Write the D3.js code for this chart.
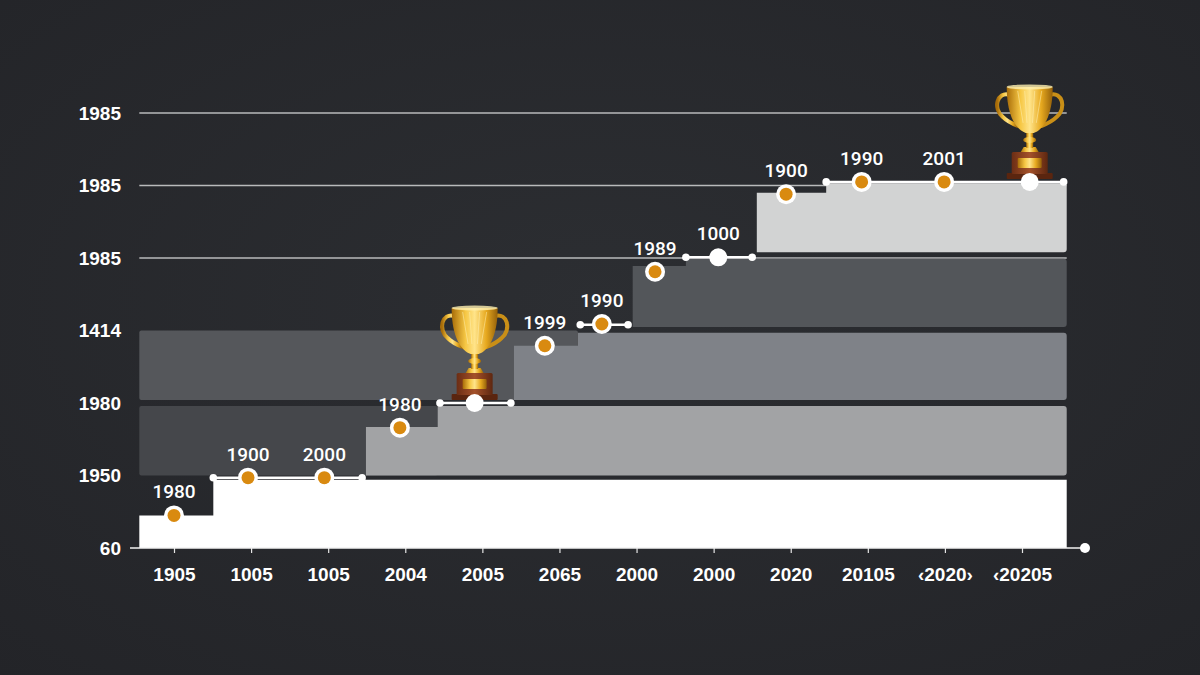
<!doctype html>
<html>
<head>
<meta charset="utf-8">
<style>
  body { margin: 0; background-color: #2a2c30; }
  svg { display: block; }
  .tick text { font-family: "Liberation Sans", Arial, sans-serif; }
</style>
<script src="https://d3js.org/d3.v7.min.js"></script>
</head>
<body>
<script>

  // axis labels
  var yLabels = ["60", "1950", "1980", "1414", "1985", "1985", "1985"];
  var xLabels = ["1905", "1005", "1005", "2004", "2005", "2065", "2000", "2000", "2020", "20105", "\u20392020\u203a", "\u203920205"];

  // points along the staircase (x in category units, y in level units)
  var pointX = [0, 0.96, 1.95, 2.93, 3.9, 4.81, 5.55, 6.24, 7.06, 7.94, 8.92, 9.99, 11.1];
  var pointY = [0.45, 0.97, 0.97, 1.66, 2.0, 2.79, 3.09, 3.81, 4.01, 4.88, 5.05, 5.05, 5.05];
  var pointLabel = ["1980", "1900", "2000", "1980", "", "1999", "1990", "1989", "1000", "1900", "1990", "2001", ""];
  var pointKind = ["o", "o", "o", "o", "w", "o", "o", "o", "w", "o", "o", "o", "w"];
  var trophyAt = [4, 12];

  // flat white segments
  var segStart = [0.51, 3.45, 5.27, 6.64, 8.46];
  var segEnd = [2.44, 4.37, 5.89, 7.5, 11.54];
  var segLevel = [0.97, 2.0, 3.08, 4.01, 5.05];

  // stepped bands: light part starts at bandStart with low top, rises at bandStep
  var bandStart = [-0.45, 2.49, 4.41, 5.95, 7.56];
  var bandStep = [0.51, 3.42, 5.24, 6.64, 8.46];
  var bandLowTop = [0.45, 1.67, 2.79, 3.89, 4.9];
  var bandHighTop = [0.94, 1.96, 2.97, 3.99, 5.03];
  var bandBottom = [0, 1.0, 2.04, 3.05, 4.08];
  var bandColor = ["#ffffff", "#a2a3a5", "#7f8288", "#53565a", "#d2d3d3"];
  // dark left parts of rows
  var darkBottom = [1.0, 2.04];
  var darkTop = [1.96, 3.0];
  var darkEnd = [3.42, 5.24];
  var darkColor = ["#45474b", "#55575b"];

  var gridLevels = [4, 5, 6];
  var xMin = -0.45, xMax = 11.58;

  var svg_width = 1200, svg_height = 675;

  var svg = d3.select("body").append("svg")
    .attr("width", svg_width)
    .attr("height", svg_height);

  var defs = svg.append("defs");
  var bg = defs.append("radialGradient").attr("id", "bg").attr("cx", "50%").attr("cy", "45%").attr("r", "75%");
  bg.append("stop").attr("offset", "0%").attr("stop-color", "#2c2e32");
  bg.append("stop").attr("offset", "100%").attr("stop-color", "#232428");

  var gold = defs.append("linearGradient").attr("id", "gold").attr("x1", "0").attr("x2", "1").attr("y1", "0").attr("y2", "0");
  gold.append("stop").attr("offset", "0%").attr("stop-color", "#a86c08");
  gold.append("stop").attr("offset", "30%").attr("stop-color", "#f6c744");
  gold.append("stop").attr("offset", "50%").attr("stop-color", "#ffe48a");
  gold.append("stop").attr("offset", "75%").attr("stop-color", "#e7a91f");
  gold.append("stop").attr("offset", "100%").attr("stop-color", "#94600a");

  var wood = defs.append("linearGradient").attr("id", "wood").attr("x1", "0").attr("x2", "1");
  wood.append("stop").attr("offset", "0%").attr("stop-color", "#6b2d14");
  wood.append("stop").attr("offset", "50%").attr("stop-color", "#a4512a");
  wood.append("stop").attr("offset", "100%").attr("stop-color", "#5e2710");

  svg.append("rect").attr("width", svg_width).attr("height", svg_height).attr("fill", "url(#bg)");

  var x = d3.scaleLinear().domain([0, 11]).range([174, 1022]);
  var y = d3.scaleLinear().domain([0, 6]).range([548, 113]);

  var g = svg.append("g");

  // gridlines
  g.selectAll(".grid")
    .data(gridLevels)
    .enter().append("line")
    .attr("x1", x(xMin)).attr("x2", x(xMax))
    .attr("y1", function(d) { return y(d); })
    .attr("y2", function(d) { return y(d); })
    .attr("stroke", "#b9babb")
    .attr("stroke-width", 1.5);

  // dark left parts
  g.selectAll(".dark")
    .data(darkColor)
    .enter().append("rect")
    .attr("x", x(xMin))
    .attr("y", function(d, i) { return y(darkTop[i]); })
    .attr("width", function(d, i) { return x(darkEnd[i]) - x(xMin); })
    .attr("height", function(d, i) { return y(darkBottom[i]) - y(darkTop[i]); })
    .attr("rx", 2)
    .attr("fill", function(d) { return d; });

  // stepped light parts
  g.selectAll(".band")
    .data(bandColor)
    .enter().append("path")
    .attr("fill", function(d) { return d; })
    .attr("d", function(d, i) {
      var x0 = x(bandStart[i]), xs = x(bandStep[i]), x1 = x(xMax);
      var yb = y(bandBottom[i]), yl = y(bandLowTop[i]), yh = y(bandHighTop[i]);
      var r = i == 0 ? 0 : 3;
      return "M" + x0 + "," + yb +
        "L" + x0 + "," + yl +
        "L" + xs + "," + yl +
        "L" + xs + "," + yh +
        "L" + (x1 - r) + "," + yh +
        "Q" + x1 + "," + yh + " " + x1 + "," + (yh + r) +
        "L" + x1 + "," + (yb - r) +
        "Q" + x1 + "," + yb + " " + (x1 - r) + "," + yb + "Z";
    });

  // x axis
  var xAxis = d3.axisBottom(x)
    .tickValues(d3.range(xLabels.length))
    .tickFormat(function(d) { return xLabels[d]; })
    .tickSize(5)
    .tickSizeOuter(0);

  var ax = g.append("g")
    .attr("transform", "translate(0," + y(0) + ")")
    .call(xAxis);
  ax.select(".domain").remove();
  ax.selectAll(".tick line").attr("stroke", "#e6e6e6").attr("stroke-width", 1.2);
  ax.selectAll(".tick text")
    .attr("fill", "#ffffff")
    .attr("font-size", "19px")
    .attr("font-weight", "bold")
    .attr("dy", "1.05em")
    .attr("y", 13);
  ax.append("line")
    .attr("x1", 130).attr("x2", 1085)
    .attr("y1", 0).attr("y2", 0)
    .attr("stroke", "#f2f2f2").attr("stroke-width", 1.5);
  ax.append("circle").attr("cx", 1085).attr("cy", 0).attr("r", 5).attr("fill", "#ffffff");

  // y axis labels
  var yAxis = d3.axisLeft(y)
    .tickValues(d3.range(yLabels.length))
    .tickFormat(function(d) { return yLabels[d]; })
    .tickSize(0);
  var ay = g.append("g")
    .attr("transform", "translate(121,0)")
    .call(yAxis);
  ay.select(".domain").remove();
  ay.selectAll(".tick text")
    .attr("fill", "#ffffff")
    .attr("font-size", "19px")
    .attr("font-weight", "bold")
    .attr("x", 0);

  // flat segments
  g.selectAll(".seg")
    .data(segLevel)
    .enter().append("line")
    .attr("x1", function(d, i) { return x(segStart[i]); })
    .attr("x2", function(d, i) { return x(segEnd[i]); })
    .attr("y1", function(d) { return y(d); })
    .attr("y2", function(d) { return y(d); })
    .attr("stroke", "#ffffff")
    .attr("stroke-width", 2.5);

  var ends = [];
  segLevel.forEach(function(d, i) {
    ends.push([segStart[i], d]);
    ends.push([segEnd[i], d]);
  });
  g.selectAll(".segend")
    .data(ends)
    .enter().append("circle")
    .attr("cx", function(d) { return x(d[0]); })
    .attr("cy", function(d) { return y(d[1]); })
    .attr("r", 3.8)
    .attr("fill", "#ffffff");

  // trophies
  function drawTrophy(cx, by) {
    var t = g.append("g").attr("transform", "translate(" + cx + "," + by + ")");
    t.append("rect").attr("x", -23).attr("y", -6).attr("width", 46).attr("height", 6).attr("rx", 1).attr("fill", "#5a250f");
    t.append("rect").attr("x", -18).attr("y", -27).attr("width", 36).attr("height", 22).attr("rx", 1.5).attr("fill", "url(#wood)");
    t.append("rect").attr("x", -12).attr("y", -21).attr("width", 24).attr("height", 10).attr("rx", 1).attr("fill", "url(#gold)");
    t.append("path").attr("d", "M-9,-27 L9,-27 L6,-32 L-6,-32 Z").attr("fill", "url(#gold)");
    t.append("rect").attr("x", -3.5).attr("y", -46).attr("width", 7).attr("height", 15).attr("fill", "url(#gold)");
    t.append("ellipse").attr("cx", 0).attr("cy", -39).attr("rx", 6.5).attr("ry", 3).attr("fill", "url(#gold)");
    t.append("path")
      .attr("d", "M-20,-84 C-33,-88 -37,-70 -27,-62 C-22,-57 -17,-55 -12,-53")
      .attr("fill", "none").attr("stroke", "url(#gold)").attr("stroke-width", 4).attr("stroke-linecap", "round");
    t.append("path")
      .attr("d", "M20,-84 C33,-88 37,-70 27,-62 C22,-57 17,-55 12,-53")
      .attr("fill", "none").attr("stroke", "#c98f17").attr("stroke-width", 4).attr("stroke-linecap", "round");
    t.append("path")
      .attr("d", "M-23,-92 L23,-92 C23,-62 13,-49 4,-46 L-4,-46 C-13,-49 -23,-62 -23,-92 Z")
      .attr("fill", "url(#gold)");
    t.append("ellipse").attr("cx", 0).attr("cy", -92).attr("rx", 23).attr("ry", 2.5).attr("fill", "#fff0b0").attr("opacity", 0.8);
    [-12, -5, 5, 12].forEach(function(dx) {
      t.append("line").attr("x1", dx).attr("x2", dx * 0.55).attr("y1", -88).attr("y2", -56)
        .attr("stroke", "#fff2b8").attr("stroke-width", 1).attr("opacity", 0.5);
    });
  }
  trophyAt.forEach(function(i) {
    drawTrophy(x(pointX[i]), y(pointY[i]) - 3);
  });

  // points
  var pts = g.selectAll(".pt")
    .data(pointX)
    .enter().append("g")
    .attr("transform", function(d, i) { return "translate(" + x(d) + "," + y(pointY[i]) + ")"; });

  pts.append("circle")
    .attr("r", function(d, i) { return pointKind[i] == "w" ? 9 : 10; })
    .attr("fill", "#ffffff");
  pts.filter(function(d, i) { return pointKind[i] == "o"; })
    .append("circle")
    .attr("r", 6.5)
    .attr("fill", "#d98a10");

  pts.append("text")
    .attr("y", -17)
    .attr("text-anchor", "middle")
    .attr("fill", "#ffffff")
    .attr("font-family", "Roboto, 'Liberation Sans', Arial, sans-serif")
    .attr("font-size", "19px")
    .attr("font-weight", 500)
    .text(function(d, i) { return pointLabel[i]; });

</script>
</body>
</html>
